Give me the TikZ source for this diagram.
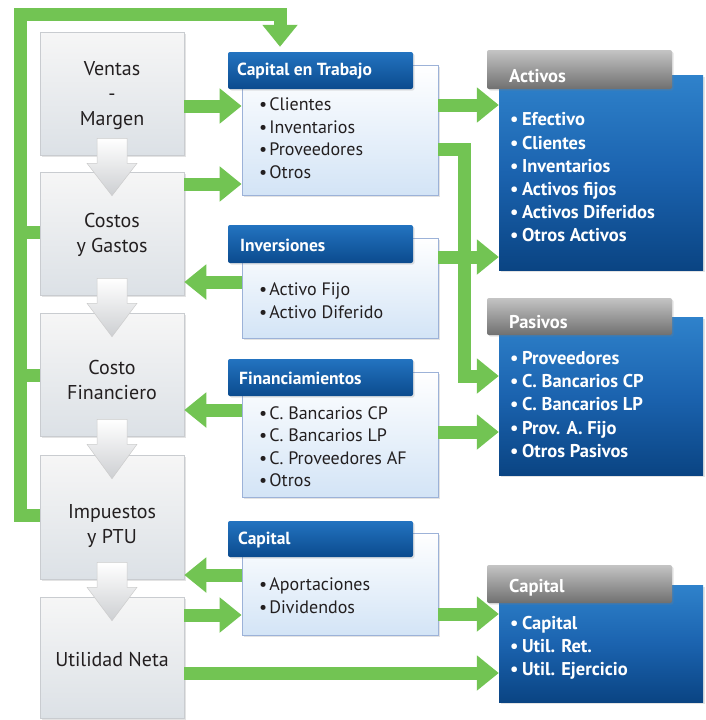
\documentclass[tikz,border=0pt]{standalone}
\usepackage{fontspec}
\setmainfont{PT Sans}
\usetikzlibrary{arrows.meta,shadows,calc}
\definecolor{txt}{HTML}{231F20}
\definecolor{lgtop}{HTML}{F6F6F6}
\definecolor{lgbot}{HTML}{DCE1E6}
\definecolor{lgbord}{HTML}{C9CCD0}
\definecolor{mbot}{HTML}{D3E4F6}
\definecolor{mbord}{HTML}{9CB2D8}
\definecolor{bhtop}{HTML}{2373C0}
\definecolor{bhbot}{HTML}{0B4B8E}
\definecolor{rbtop}{HTML}{2F82CB}
\definecolor{rbmid}{HTML}{1B63AF}
\definecolor{rbbot}{HTML}{0A4483}
\definecolor{ghtop}{HTML}{C4C4C4}
\definecolor{ghbot}{HTML}{707070}
\definecolor{gcol}{HTML}{72C453}
\definecolor{datop}{HTML}{FFFFFF}
\definecolor{dabot}{HTML}{CDCFD2}
\newcommand\dnarrow[2]{%
  \path[darr] let \p1=(#1.south), \p2=(#2.north) in
    (\x1-15pt,\y1+17pt) -- (\x1+15pt,\y1+17pt) -- (\x1+15pt,\y1-8pt) --
    (\x1+25pt,\y1-8pt) -- (\x1,\y2-24pt) -- (\x1-25pt,\y1-8pt) --
    (\x1-15pt,\y1-8pt) -- cycle;}
\begin{document}
\begin{tikzpicture}[x=1pt,y=-1pt,
  shad/.style={drop shadow={opacity=.22,shadow xshift=1.5pt,shadow yshift=-1.5pt}},
  lbox/.style={draw=lgbord,line width=.6pt,top color=lgtop,bottom color=lgbot,
    minimum width=144pt,inner sep=0pt,shad},
  ltext/.style={align=center,text=txt,inner sep=0pt,font=\fontsize{20}{25}\selectfont},
  mbody/.style={draw=mbord,line width=.8pt,top color=white,bottom color=mbot,
    minimum width=196pt,inner sep=0pt,shad},
  mhead/.style={rounded corners=2pt,top color=bhtop,bottom color=bhbot,
    minimum width=185pt,minimum height=37pt,inner sep=0pt,shad},
  rbody/.style={top color=rbtop,bottom color=rbbot,middle color=rbmid,
    minimum width=204pt,inner sep=0pt,shad},
  ghead/.style={rounded corners=2pt,top color=ghtop,bottom color=ghbot,
    minimum width=185pt,minimum height=38pt,inner sep=0pt,shad},
  htext/.style={anchor=west,inner sep=0pt,text=white,font=\bfseries\fontsize{17.5}{19}\selectfont},
  gtext/.style={anchor=west,inner sep=0pt,text=white,font=\bfseries\fontsize{18.5}{20}\selectfont},
  mtext/.style={anchor=west,inner sep=0pt,align=left,text=txt,font=\fontsize{18}{22.6}\selectfont},
  rtext/.style={anchor=west,inner sep=0pt,align=left,text=white,font=\bfseries\fontsize{18.5}{23.2}\selectfont},
  darr/.style={draw=black!20,line width=.5pt,top color=datop,bottom color=dabot},
  gline/.style={draw=gcol,line width=13pt},
  garrow/.style={draw=gcol,line width=13pt,-{Triangle[length=22pt,width=34pt]}}]
\useasboundingbox (0,0) rectangle (706,720);

% left column
\node[lbox,minimum height=123pt] (v1) at (112,93.5) {};
\node[lbox,minimum height=123pt] (v2) at (112,233.5) {};
\node[lbox,minimum height=123pt] (v3) at (112,374.5) {};
\node[lbox,minimum height=124pt] (v4) at (112,517) {};
\node[lbox,minimum height=121pt] (v5) at (112,657.5) {};
\node[ltext] (v1t) at ($(v1)+(0,2.5)$) {Ventas\\-\\Margen};
\node[ltext] (v2t) at ($(v2)+(0,1.5)$) {Costos\\y Gastos};
\node[ltext] (v3t) at ($(v3)+(0,5)$) {Costo\\Financiero};
\node[ltext] (v4t) at ($(v4)+(0,9.5)$) {Impuestos\\y PTU};
\node[ltext] (v5t) at ($(v5)+(0,2)$) {Utilidad Neta};

\dnarrow{v1}{v2}
\dnarrow{v2}{v3}
\dnarrow{v3}{v4}
\dnarrow{v4}{v5}

% middle column
\node[mbody,minimum height=130pt] (ctb) at (340,130) {};
\node[mhead] (ctH) at (320.5,70.5) {};
\node[htext] (ctHt) at (237,71.5) {Capital en Trabajo};
\node[mtext] (ctbl) at (259,138) {•\kern2pt Clientes\\•\kern2pt Inventarios\\•\kern2pt Proveedores\\•\kern2pt Otros};

\node[mbody,minimum height=100pt] (inv) at (340,288) {};
\node[mhead,minimum height=38pt] (invH) at (320.5,244) {};
\node[htext] (invHt) at (240,245) {Inversiones};
\node[mtext] (invl) at (259,300.5) {•\kern2pt Activo Fijo\\•\kern2pt Activo Diferido};

\node[mbody,minimum height=125pt] (fin) at (340,434.5) {};
\node[mhead] (finH) at (320.5,377.5) {};
\node[htext] (finHt) at (239,378.5) {Financiamientos};
\node[mtext] (finl) at (259,446.75) {•\kern2pt C. Bancarios CP\\•\kern2pt C. Bancarios LP\\•\kern2pt C. Proveedores AF\\•\kern2pt Otros};

\node[mbody,minimum height=102pt] (cap) at (340,584) {};
\node[mhead,minimum height=36pt] (capH) at (320.5,539) {};
\node[htext] (capHt) at (238,540) {Capital};
\node[mtext] (capl) at (259,596) {•\kern2pt Aportaciones\\•\kern2pt Dividendos};

% right column
\node[rbody,minimum height=195pt] (act) at (601,172.5) {};
\node[ghead,minimum height=39pt] (actH) at (579.5,69.5) {};
\node[gtext] (actHt) at (509,76) {Activos};
\node[rtext] (actl) at (510,177.5) {•\kern3.5pt Efectivo\\•\kern3.5pt Clientes\\•\kern3.5pt Inventarios\\•\kern3.5pt Activos fijos\\•\kern3.5pt Activos Diferidos\\•\kern3.5pt Otros Activos};

\node[rbody,minimum height=158pt] (pas) at (601,396) {};
\node[ghead,minimum height=37pt] (pasH) at (579.5,316.5) {};
\node[gtext] (pasHt) at (509,322) {Pasivos};
\node[rtext] (pasl) at (510,404.5) {•\kern3.5pt Proveedores\\•\kern3.5pt C. Bancarios CP\\•\kern3.5pt C. Bancarios LP\\•\kern3.5pt Prov. A. Fijo\\•\kern3.5pt Otros Pasivos};

\node[rbody,minimum height=117pt] (capR) at (601,643.5) {};
\node[ghead] (capRH) at (579.5,584) {};
\node[gtext] (capRHt) at (509,588) {Capital};
\node[rtext] (caprl) at (510,648) {•\kern3.5pt Capital\\•\kern3.5pt Util. Ret.\\•\kern3.5pt Util. Ejercicio};

% helper coordinates
\coordinate (lx) at (20,0);
\coordinate (tx) at (280,0);
\coordinate (vx) at (464,0);
\coordinate (yT) at (0,14);
\coordinate (yL) at (0,515);
\coordinate (yS2) at (0,232);
\coordinate (yS3) at (0,375);
\coordinate (y1) at (0,106);
\coordinate (y2) at (0,184);
\coordinate (y3) at (0,105);
\coordinate (y4a) at (0,149);
\coordinate (y4b) at (0,376);
\coordinate (y5) at (0,257);
\coordinate (y6) at (0,282);
\coordinate (y7) at (0,410);
\coordinate (y8) at (0,432);
\coordinate (y9) at (0,575);
\coordinate (y10) at (0,615);
\coordinate (y11) at (0,614);
\coordinate (y12) at (0,673);

% green loop
\draw[gline] (lx |- yS2) -- (v2.west |- yS2);
\draw[gline] (lx |- yS3) -- (v3.west |- yS3);
\draw[garrow,line join=miter] (v4.west |- yL) -- (lx |- yL) -- (lx |- yT) -- (tx |- yT) -- ([yshift=5pt]tx |- ctH.north);

% green arrows
\draw[garrow] (v1.east |- y1) -- (ctb.west |- y1);
\draw[garrow] (v2.east |- y2) -- (ctb.west |- y2);
\draw[garrow] (ctb.east |- y3) -- (act.west |- y3);
\draw[garrow] (inv.east |- y5) -- (act.west |- y5);
\draw[garrow,line join=miter] (ctb.east |- y4a) -- (vx |- y4a) -- (vx |- y4b) -- (pas.west |- y4b);
\draw[garrow] (inv.west |- y6) -- (v2.east |- y6);
\draw[garrow] (fin.west |- y7) -- (v3.east |- y7);
\draw[garrow] (fin.east |- y8) -- (pas.west |- y8);
\draw[garrow] (cap.west |- y9) -- (v4.east |- y9);
\draw[garrow] (v5.east |- y10) -- (cap.west |- y10);
\draw[garrow] (cap.east |- y11) -- (capR.west |- y11);
\draw[garrow] (v5.east |- y12) -- (capR.west |- y12);
\end{tikzpicture}
\end{document}
